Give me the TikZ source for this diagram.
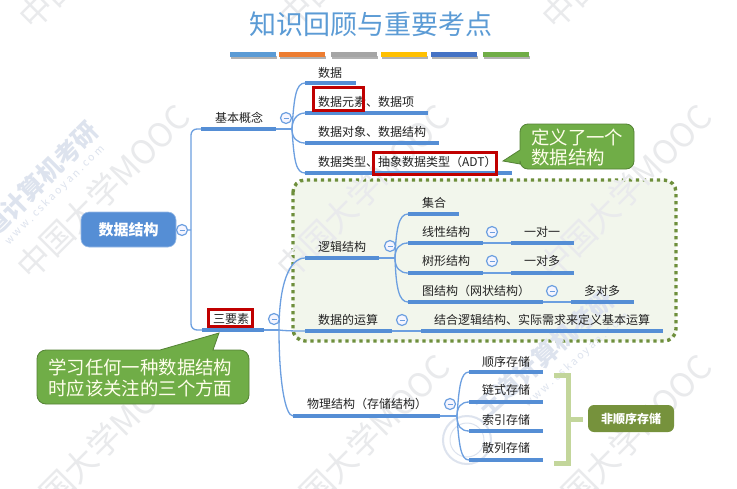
\documentclass[tikz,border=0pt]{standalone}
\usepackage{fontspec}
\setmainfont{Noto Sans CJK SC}
\usetikzlibrary{calc}
\definecolor{mblue}{HTML}{558ED5}
\definecolor{tblue}{HTML}{6C9FE0}
\definecolor{wred}{HTML}{C00000}
\definecolor{callg}{HTML}{70AD47}
\definecolor{callb}{HTML}{548235}
\definecolor{panelf}{HTML}{F2F6EC}
\definecolor{dotc}{HTML}{6E8F3C}
\definecolor{brk}{HTML}{C3D69B}
\definecolor{olive}{HTML}{76923C}
\definecolor{wm}{HTML}{E9EAEC}
\definecolor{wmb}{HTML}{DDE3EE}
\definecolor{ink}{HTML}{222222}
\definecolor{cA}{HTML}{5B9BD5}
\definecolor{cB}{HTML}{ED7D31}
\definecolor{cC}{HTML}{A5A5A5}
\definecolor{cD}{HTML}{FFC000}
\definecolor{cE}{HTML}{4472C4}
\tikzset{
  lbl/.style={anchor=west,inner sep=0pt,text=ink,font=\fontsize{12}{12}\selectfont},
  ubar/.style={draw=mblue,line width=3.6pt},
  tline/.style={draw=tblue,line width=1.3pt},
  fold/.style={circle,draw=tblue,fill=blue!4,line width=1.2pt,minimum size=11pt,inner sep=0pt,
    path picture={\draw[tblue,line width=1pt] ($(path picture bounding box.center)+(-2.5,0)$) -- ($(path picture bounding box.center)+(2.5,0)$);}},
  redbox/.style={draw=wred,line width=3.2pt,inner sep=0pt},
  callout/.style={fill=callg,draw=callb,line width=.8pt},
  calltext/.style={anchor=west,inner sep=0pt,text=white!92!yellow,font=\fontsize{18.4}{18.4}\selectfont},
  wmark/.style={rotate=45,text=wm,inner sep=0pt,font=\fontsize{33}{33}\selectfont},
  wmbrand/.style={text=wmb,inner sep=0pt,font=\bfseries\fontsize{25}{25}\selectfont},
  wmurl/.style={text=wmb,inner sep=0pt,font=\fontsize{10.5}{10.5}\selectfont},
  bar/.style={minimum height=5pt,inner sep=0pt,anchor=north west},
}
\newcommand{\topic}[7]{%
  \node[lbl] (#1) at (#2,#3) {#7};
  \coordinate (#1-l) at (#4,#6);
  \coordinate (#1-r) at (#5,#6);
  \draw[ubar] (#1-l) -- (#1-r);}
\newcommand{\cbar}[4]{%
  \fill[black!30] (#2+1,56) rectangle (#3+1,59);
  \node[bar,fill=#4,minimum width=#3pt-#2pt] (#1) at (#2,52) {};}
\begin{document}
\begin{tikzpicture}[x=1pt,y=-1pt]
\useasboundingbox (0,0) rectangle (737,488);
\fill[white] (0,0) rectangle (737,488);
% panel
\draw[fill=panelf,draw=dotc,line width=3.4pt,dash pattern=on 3.4pt off 3.6pt,rounded corners=12pt] (293,180) rectangle (676,341);
% watermarks
\foreach \n/\x/\y in {a/105/-58,b/365/-58,c/628/-58,d/103/192,e/363/192,f/625/192,g/103/442,h/363/442,k/625/442}
  \node[wmark] (wm\n) at (\x,\y) {中国大学MOOC};
\node[wmbrand,rotate=45] (brandA) at (32,188) {王道计算机考研};
\node[wmbrand,rotate=42] (brandB) at (545,354) {王道计算机考研};
\node[wmurl,rotate=45] (urlA) at (55,195) {w w w . c s k a o y a n . c o m};
\node[wmurl,rotate=42] (urlB) at (577,360) {w w w . c s k a o y a n . c o m};
\draw[wmb,line width=2pt] (467,440) circle (24);
\draw[wmb,line width=1pt] (467,440) circle (17);
% title
\node[inner sep=0pt,text=cA,font=\fontsize{27}{27}\selectfont] (title) at (371,24) {知识回顾与重要考点};
\cbar{b1}{230}{276}{cA}
\cbar{b2}{279}{325}{cB}
\cbar{b3}{331}{377}{cC}
\cbar{b4}{381}{427}{cD}
\cbar{b5}{431}{477}{cE}
\cbar{b6}{483}{529}{callg}
% root
\node[fill=mblue,draw=mblue!60,line width=.6pt,rounded corners=8pt,minimum width=95pt,minimum height=35pt,inner sep=0pt,text=white,font=\bfseries\fontsize{15}{15}\selectfont] (root) at (128.5,229.5) {数据结构};
\coordinate (trunk) at (191,230);
% first level
\topic{basic}{215}{118}{201}{276}{129}{基本概念}
\topic{three}{215}{319}{202}{264}{330}{}
\draw[tline,rounded corners=6pt] (basic-l) -| (trunk) |- (three-l);
\draw[tline] (root) -- (trunk);
\node[fold] (froot) at (182,230) {};
% basic group
\coordinate (jb) at (292,129);
\draw[tline] (basic-r) -- (jb);
\node[fold] (fbasic) at (286,118) {};
\topic{d1}{318}{73}{305}{356}{83}{数据}
\topic{d2}{318}{102}{305}{428}{113}{数据元素、数据项}
\topic{d3}{318}{132}{305}{439}{143}{数据对象、数据结构}
\topic{d4}{318}{162}{305}{512}{173}{数据类型、抽象数据类型（ADT）}
\draw[tline] (jb) .. controls +(2,-32) and +(-9,0) .. (d1-l);
\draw[tline] (jb) .. controls +(0,-9) and +(-8,0) .. (d2-l);
\draw[tline] (jb) .. controls +(0,9) and +(-8,0) .. (d3-l);
\draw[tline] (jb) .. controls +(2,32) and +(-9,0) .. (d4-l);
\node[redbox,minimum width=50pt,minimum height=23pt] (r1) at (338.5,99) {};
\node[redbox,minimum width=123pt,minimum height=22pt] (r2) at (435,163.5) {};
% callout top
\draw[callout] (520,150) -- (503,161) -- (520,164) [rounded corners=8pt] -- (520,169) -- (634,169) -- (634,124) -- (520,124) -- (520,150);
\node[calltext] (cta) at (531,137) {定义了一个};
\node[calltext] (ctb) at (531,158) {数据结构};
% three elements
\node[redbox,fill=white,minimum width=44pt,minimum height=17pt] (r3) at (230.5,318) {};
\node[lbl,anchor=center] (threetxt) at (231,319) {三要素};
\coordinate (j3) at (279,330);
\draw[tline] (three-r) -- (j3);
\node[fold] (fthree) at (274,319) {};
\topic{logic}{318}{247}{305}{379}{258}{逻辑结构}
\topic{oper}{318}{320}{305}{392}{331}{数据的运算}
\topic{phys}{307}{404}{293}{440}{416}{物理结构（存储结构）}
\draw[tline] (j3) .. controls +(0,-45) and +(-16,0) .. (logic-l);
\draw[tline] (j3) .. controls +(8,1) and +(-8,0) .. (oper-l);
\draw[tline] (j3) .. controls +(0,50) and +(-8,0) .. (phys-l);
% logic
\coordinate (jl) at (395,258);
\draw[tline] (logic-r) -- (jl);
\node[fold] (flogic) at (390,246) {};
\topic{s1}{422}{203}{408}{459}{214}{集合}
\topic{s2}{422}{232}{408}{483}{243}{线性结构}
\topic{s3}{422}{261}{408}{483}{273}{树形结构}
\topic{s4}{422}{291}{408}{543}{302}{图结构（网状结构）}
\draw[tline] (jl) .. controls +(1,-30) and +(-9,0) .. (s1-l);
\draw[tline] (jl) .. controls +(0,-10) and +(-8,0) .. (s2-l);
\draw[tline] (jl) .. controls +(0,10) and +(-8,0) .. (s3-l);
\draw[tline] (jl) .. controls +(1,30) and +(-9,0) .. (s4-l);
\topic{t2}{524}{232}{511}{574}{243}{一对一}
\topic{t3}{524}{261}{511}{574}{273}{一对多}
\topic{t4}{584}{291}{571}{634}{302}{多对多}
\draw[tline] (s2-r) -- (t2-l);
\draw[tline] (s3-r) -- (t3-l);
\draw[tline] (s4-r) -- (t4-l);
\node[fold] (fs2) at (492,232) {};
\node[fold] (fs3) at (492,261) {};
\node[fold] (fs4) at (552,291) {};
% operations
\topic{opr}{434}{320}{421}{663}{331}{结合逻辑结构、实际需求来定义基本运算}
\draw[tline] (oper-r) -- (opr-l);
\node[fold] (foper) at (402,320) {};
% physical
\coordinate (jp) at (457,416);
\draw[tline] (phys-r) -- (jp);
\node[fold] (fphys) at (450,404) {};
\topic{p1}{482}{362}{469}{543}{372}{顺序存储}
\topic{p2}{482}{390}{469}{543}{402}{链式存储}
\topic{p3}{482}{420}{469}{543}{431}{索引存储}
\topic{p4}{482}{448}{469}{543}{460}{散列存储}
\draw[tline] (jp) .. controls +(2,-30) and +(-8,0) .. (p1-l);
\draw[tline] (jp) .. controls +(0,-9) and +(-8,0) .. (p2-l);
\draw[tline] (jp) .. controls +(0,10) and +(-8,0) .. (p3-l);
\draw[tline] (jp) .. controls +(2,30) and +(-8,0) .. (p4-l);
% bracket and label
\node[fill=olive,rounded corners=6pt,minimum width=86pt,minimum height=27pt,inner sep=0pt,text=white,font=\bfseries\fontsize{12}{12}\selectfont] (nonseq) at (631,418.5) {非顺序存储};
\coordinate (brkmid) at (568.5,419);
\draw[brk,line width=5pt] (554,375.5) -| (brkmid) |- (554,463.5);
\draw[brk,line width=5pt] (brkmid) -- (583,419);
% callout bottom
\draw[callout] (160,350) -- (219,333) -- (213,350) [rounded corners=9pt] -- (249,350) -- (249,404) -- (37,404) -- (37,350) -- (160,350);
\node[calltext] (cba) at (48,367) {学习任何一种数据结构};
\node[calltext] (cbb) at (48,388) {时应该关注的三个方面};
\end{tikzpicture}
\end{document}
